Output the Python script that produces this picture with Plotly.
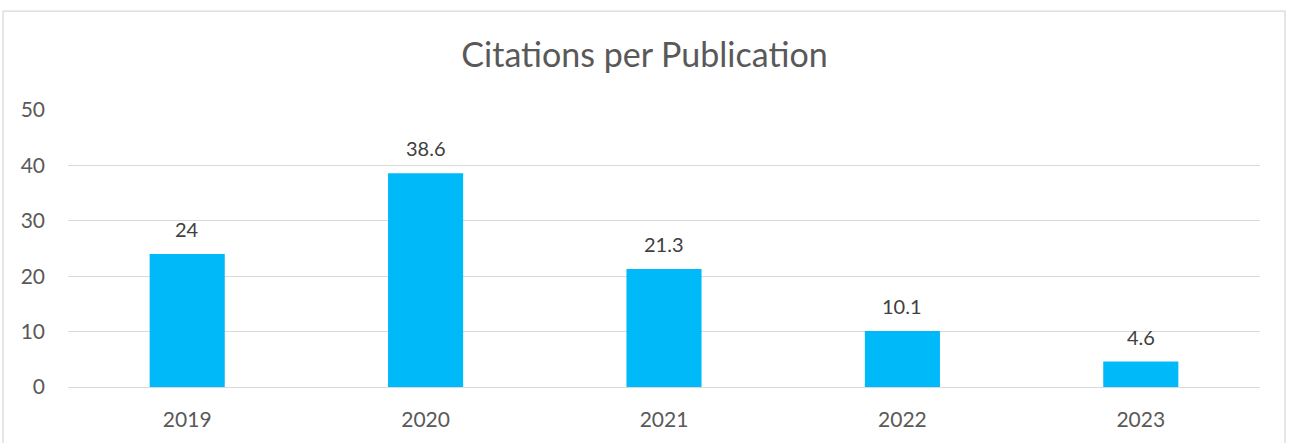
import plotly.graph_objects as go

years = ['2019', '2020', '2021', '2022', '2023']
citations = [24, 38.6, 21.3, 10.1, 4.6]
labels = ['24', '38.6', '21.3', '10.1', '4.6']

fig = go.Figure(go.Bar(
    x=years,
    y=citations,
    marker=dict(color='#00B9F8', line=dict(width=0)),
    hovertemplate='<b>%{x}</b><br>Citations per publication: %{y}<extra></extra>'
))

# data labels sit well above the bars, like the Excel original
# (category index used for x, year strings would be read as numbers)
for i, (val, lab) in enumerate(zip(citations, labels)):
    fig.add_annotation(
        x=i, y=val, text=lab, showarrow=False,
        yanchor='middle', yshift=25,
        font=dict(size=20, color='#404040')
    )

fig.update_layout(
    width=1289,
    height=443,
    margin=dict(l=68, r=29, t=110, b=56),
    paper_bgcolor='white',
    plot_bgcolor='white',
    font=dict(family='Lato, Carlito, sans-serif', size=21, color='#595959'),
    title=dict(
        text='Citations per Publication',
        x=0.5, xanchor='center',
        y=0.875, yanchor='middle',
        font=dict(size=34, color='#595959')
    ),
    bargap=0.685,
    showlegend=False,
    xaxis=dict(type='category', showgrid=False, showline=False, ticks='',
               ticklabelstandoff=18, tickfont=dict(size=21)),
    yaxis=dict(
        range=[0, 50], dtick=10,
        showgrid=True, gridcolor='#D9D9D9', gridwidth=1.3,
        zeroline=True, zerolinecolor='#D9D9D9', zerolinewidth=1.3,
        showline=False, ticks='', ticklabelstandoff=22, tickfont=dict(size=21)
    ),
    shapes=[dict(
        type='rect', xref='paper', yref='paper',
        x0=-0.0545, x1=1.021, y0=-0.3, y1=1.357,
        line=dict(color='#D9D9D9', width=1.3), layer='below'
    )]
)

fig.write_html("out.html", config={'displayModeBar': False},
               post_script="document.body.style.margin='0';")
